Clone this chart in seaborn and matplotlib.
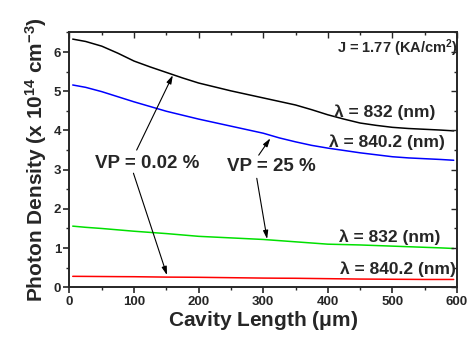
import matplotlib
matplotlib.use('Agg')
import matplotlib.pyplot as plt
import seaborn as sns
import pandas as pd

# cavity length (um) and photon density (x 1e14 cm^-3)
cavity = [5, 25, 50, 75, 100, 125, 150, 175, 200, 225, 250, 275, 300,
          325, 350, 375, 400, 425, 450, 475, 500, 525, 550, 575, 595]
vp002_832 = [6.33, 6.27, 6.15, 5.97, 5.77, 5.62, 5.48, 5.34, 5.21, 5.11, 5.01, 4.92, 4.83,
             4.74, 4.65, 4.53, 4.40, 4.29, 4.19, 4.13, 4.08, 4.05, 4.03, 4.01, 3.99]
vp25_832 = [5.16, 5.10, 4.99, 4.86, 4.73, 4.61, 4.49, 4.39, 4.29, 4.20, 4.11, 4.02, 3.93,
            3.81, 3.71, 3.62, 3.55, 3.49, 3.43, 3.38, 3.33, 3.30, 3.28, 3.26, 3.24]
vp25_840 = [1.56, 1.53, 1.50, 1.465, 1.43, 1.40, 1.37, 1.335, 1.30, 1.28, 1.26, 1.24, 1.22,
            1.19, 1.16, 1.13, 1.10, 1.09, 1.08, 1.065, 1.05, 1.035, 1.02, 1.005, 0.99]
vp002_840 = [0.28, 0.278, 0.275, 0.272, 0.27, 0.265, 0.26, 0.258, 0.255, 0.25, 0.245, 0.24, 0.235,
             0.232, 0.23, 0.225, 0.22, 0.215, 0.21, 0.208, 0.205, 0.203, 0.20, 0.20, 0.20]

series = ["vp002_832", "vp25_832", "vp25_840", "vp002_840"]
colors = ["black", "#0000ff", "#00e000", "#ff0000"]

df = pd.DataFrame({"x": cavity * 4,
                   "y": vp002_832 + vp25_832 + vp25_840 + vp002_840,
                   "s": [s for s in series for _ in cavity]})

sns.set_style("ticks")
plt.rcParams['font.family'] = ['Liberation Sans', 'DejaVu Sans']
plt.rcParams['font.weight'] = 'bold'
plt.rcParams['mathtext.fontset'] = 'custom'
plt.rcParams['mathtext.rm'] = 'Liberation Sans:bold'
plt.rcParams['mathtext.bf'] = 'Liberation Sans:bold'
plt.rcParams['mathtext.default'] = 'bf'

fig = plt.figure(figsize=(4.77, 3.38), dpi=100)
ax = fig.add_axes([0.1457, 0.150, 0.8123, 0.754])

sns.lineplot(data=df, x="x", y="y", hue="s", palette=colors, hue_order=series,
             linewidth=1.1, legend=False, ax=ax)

ax.set_xlim(0, 600)
ax.set_ylim(0, 6.5)
ax.set_xticks(range(0, 601, 100))
ax.set_xticks(range(50, 600, 100), minor=True)
ax.set_yticks(range(0, 7))
ax.set_yticks([0.5 + i for i in range(7)], minor=True)
for sp in ax.spines.values():
    sp.set_linewidth(1.4)
    sp.set_visible(True)
ax.tick_params(which='major', direction='out', length=4, width=1.2, labelsize=9.5, pad=2)
ax.tick_params(which='minor', direction='out', length=2.5, width=1.0)
for lab in ax.get_xticklabels() + ax.get_yticklabels():
    lab.set_fontweight('bold')

# inward ticks on top and right
axr = ax.twinx()
axr.set_ylim(0, 6.5)
axr.set_yticks(range(0, 7))
axr.set_yticks([0.5 + i for i in range(7)], minor=True)
axr.tick_params(which='both', direction='in', labelright=False, width=1.0)
axr.tick_params(which='major', length=4)
axr.tick_params(which='minor', length=2.5)
axt = ax.twiny()
axt.set_xlim(0, 600)
axt.set_xticks(range(0, 601, 100))
axt.set_xticks(range(50, 600, 100), minor=True)
axt.tick_params(which='both', direction='in', labeltop=False, width=1.0)
axt.tick_params(which='major', length=4)
axt.tick_params(which='minor', length=2.5)
for a in (axr, axt):
    for sp in a.spines.values():
        sp.set_visible(False)

ax.set_xlabel(r"Cavity Length ($\mathbf{\mu}$m)", fontsize=15, fontweight='bold', labelpad=1)
ax.set_ylabel(r"Photon Density (x 10$^{14}$ cm$^{-3}$)", fontsize=15, fontweight='bold', labelpad=3)

ax.text(601, 6.1, r"J = 1.77 (KA/cm$^{2}$)", fontsize=10.5, fontweight='bold',
        ha='right', va='center', clip_on=False)
ax.text(567, 4.47, "λ = 832 (nm)", fontsize=12.5, fontweight='bold', ha='right', va='center')
ax.text(582, 3.71, "λ = 840.2 (nm)", fontsize=12.5, fontweight='bold', ha='right', va='center')
ax.text(574, 1.28, "λ = 832 (nm)", fontsize=12.5, fontweight='bold', ha='right', va='center')
ax.text(598, 0.47, "λ = 840.2 (nm)", fontsize=12.5, fontweight='bold', ha='right', va='center')

ax.text(120, 3.15, "VP = 0.02 %", fontsize=13.5, fontweight='bold', ha='center', va='center')
ax.text(312, 3.08, "VP = 25 %", fontsize=13.5, fontweight='bold', ha='center', va='center')

arrow = dict(arrowstyle='-|>,head_length=0.5,head_width=0.15', color='black', lw=0.8,
             shrinkA=0, shrinkB=0)
ax.annotate("", xy=(160, 5.41), xytext=(104, 3.50), arrowprops=arrow)
ax.annotate("", xy=(151, 0.31), xytext=(99, 2.91), arrowprops=arrow)
ax.annotate("", xy=(311, 3.80), xytext=(293, 3.37), arrowprops=arrow)
ax.annotate("", xy=(306, 1.23), xytext=(290, 2.78), arrowprops=arrow)

fig.savefig("out.png", dpi=100)
